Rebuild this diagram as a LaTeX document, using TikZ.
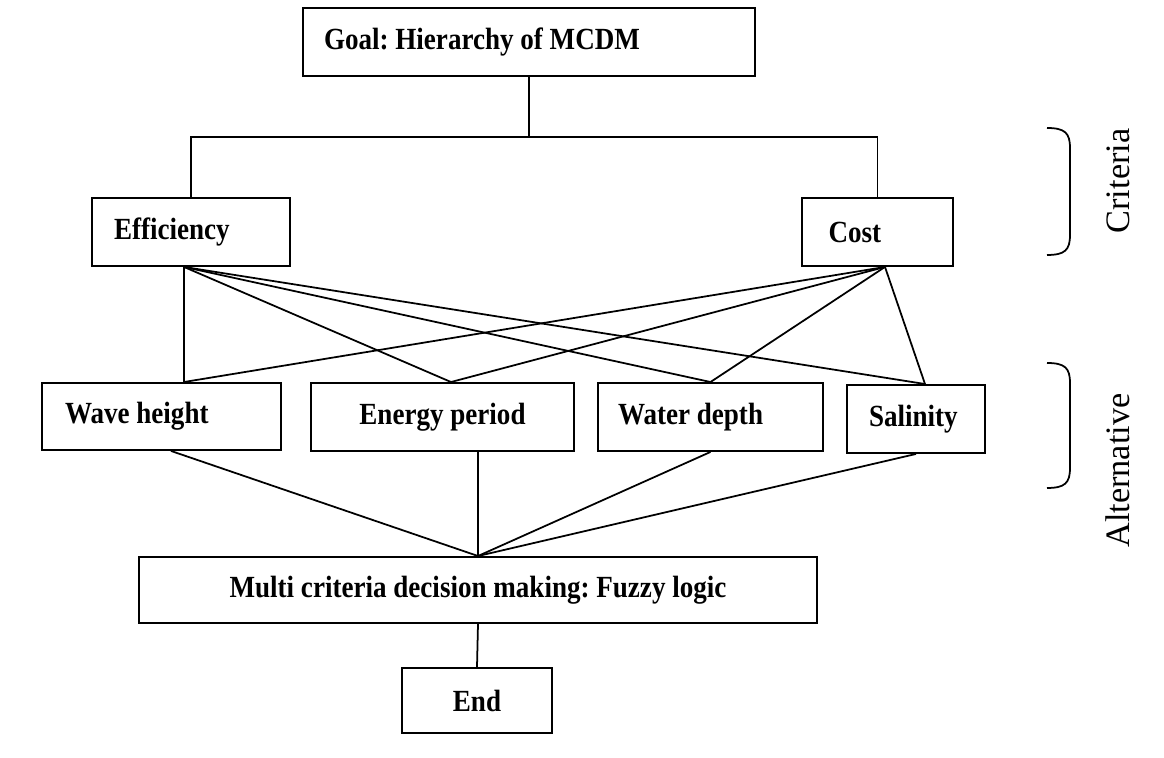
\documentclass[tikz,border=0pt]{standalone}
\usepackage{fontspec}
\setmainfont{Liberation Serif}
\newfontfamily\boxfont{Liberation Serif}[FakeStretch=0.88]
\usepackage{tikz}
\usetikzlibrary{calc}
\frenchspacing

\tikzset{
    box/.style={draw, line width=1.1pt, inner xsep=0pt, inner ysep=0pt, font=\boxfont\fontsize{17.5}{20}\selectfont\bfseries},
    leftbox/.style={box, align=flush left},
    link/.style={line width=1pt},
    sidelabel/.style={rotate=90, font=\fontsize{19.5}{22}\selectfont}
}

\begin{document}
\begin{tikzpicture}
    \useasboundingbox (0,0) rectangle (23.28,15.16);

    % Goal
    \node[leftbox, minimum width=9.04cm, minimum height=1.36cm, text width=8.2cm] (goal) at (10.58,14.32) {Goal: Hierarchy of MCDM};

    % Criteria
    \node[leftbox, minimum width=3.96cm, minimum height=1.36cm, text width=3.08cm] (eff) at (3.82,10.52) {Efficiency};
    \node[leftbox, minimum width=3.02cm, minimum height=1.36cm, text width=1.96cm] (cost) at (17.55,10.52) {Cost};

    % Alternatives
    \node[leftbox, minimum width=4.78cm, minimum height=1.34cm, text width=3.86cm] (wave) at (3.23,6.83) {Wave height};
    \node[box, minimum width=5.26cm, minimum height=1.36cm] (energy) at (8.85,6.82) {Energy period};
    \node[leftbox, minimum width=4.5cm, minimum height=1.36cm, text width=3.7cm] (water) at (14.21,6.82) {Water depth};
    \node[leftbox, minimum width=2.76cm, minimum height=1.36cm, text width=1.88cm] (salt) at (18.32,6.78) {Salinity};

    % Decision and end
    \node[box, minimum width=13.56cm, minimum height=1.32cm] (mcdm) at (9.56,3.36) {Multi criteria decision making: Fuzzy logic};
    \node[box, minimum width=3cm, minimum height=1.3cm] (end) at (9.54,1.15) {End};

    % Goal to criteria
    \draw[link] (goal.south) -- ++(0,-1.2) coordinate (hub);
    \draw[link] (eff.north) |- (hub) -| (cost.north);

    % Criteria to alternatives
    \coordinate (effout) at ($(eff.south)+(-0.14,0)$);
    \coordinate (costout) at ($(cost.south)+(0.15,0)$);
    \coordinate (win) at (effout |- wave.north);
    \coordinate (ein) at ($(energy.north)+(0.17,0)$);
    \coordinate (wdin) at (water.north);
    \coordinate (sin) at ($(salt.north)+(0.18,0)$);
    \foreach \t in {win,ein,wdin,sin} {
        \draw[link] (effout) -- (\t);
        \draw[link] (costout) -- (\t);
    }

    % Alternatives to decision
    \draw[link] ($(wave.south)+(0.19,0)$) -- (mcdm.north);
    \draw[link] (energy.south -| mcdm.north) -- (mcdm.north);
    \draw[link] (water.south) -- (mcdm.north);
    \draw[link] (salt.south) -- (mcdm.north);
    \draw[link] (mcdm.south) -- (end.north);

    % Side braces
    \draw[line width=1pt] (20.94,12.6) .. controls (21.3,12.6) and (21.4,12.5) .. (21.4,12.2) -- (21.4,10.46) .. controls (21.4,10.16) and (21.3,10.06) .. (20.94,10.06);
    \draw[line width=1pt] (20.94,7.9) .. controls (21.3,7.9) and (21.4,7.8) .. (21.4,7.5) -- (21.4,5.8) .. controls (21.4,5.5) and (21.3,5.4) .. (20.94,5.4);
    \node[sidelabel] (crit) at (22.36,11.54) {Criteria};
    \node[sidelabel] (alt) at (22.36,5.75) {Alternative};
\end{tikzpicture}
\end{document}
